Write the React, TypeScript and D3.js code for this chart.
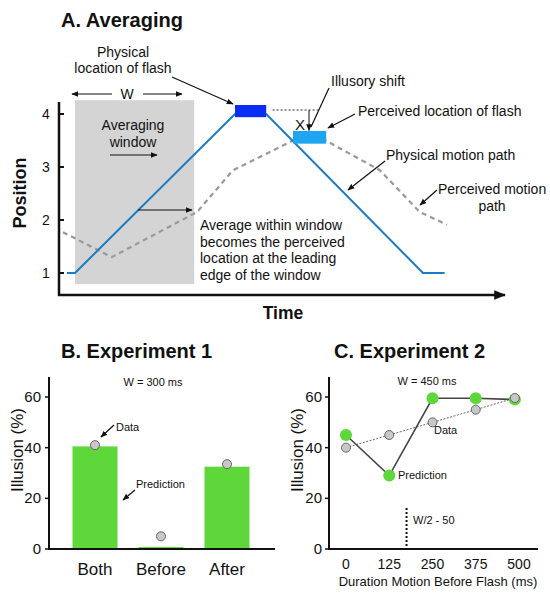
import React from 'react';
import * as d3 from 'd3';

// Panel A: schematic of averaging model
const physTime = [0, 1, 21, 24.9, 44.5, 47.2];
const physPos = [1, 1, 4, 4, 1, 1];
const percTime = [-0.5, 5.6, 16.25, 20.75, 30.4, 39.1, 44.1, 47.5];
const percPos = [1.77, 1.3, 2.15, 2.94, 3.66, 2.94, 2.15, 1.91];
const posTicks = [1, 2, 3, 4];

// Panel B: experiment 1
const exp1Cats = ['Both', 'Before', 'After'];
const exp1Pred = [40.5, 0.8, 32.5];
const exp1Data = [41, 5, 33.5];

// Panel C: experiment 2
const exp2Dur = [0, 125, 250, 375, 488];
const exp2Pred = [45, 29, 59.5, 59.5, 59];
const exp2Data = [40, 45, 50, 55, 59.6];
const durTicks = [0, 125, 250, 375, 500];
const illTicks = [0, 20, 40, 60];

const FONT = 'Liberation Sans, Arial, Helvetica, sans-serif';
const GREEN = '#5dd73a';

const App = () => {
  const xA = d3.scaleLinear().domain([-1, 55]).range([59, 507]);
  const yA = d3.scaleLinear().domain([1, 4]).range([273, 114]);
  const lineA = d3
    .line<[number, number]>()
    .x(d => xA(d[0]))
    .y(d => yA(d[1]));
  const phys = physTime.map((t, i) => [t, physPos[i]] as [number, number]);
  const perc = percTime.map((t, i) => [t, percPos[i]] as [number, number]);

  const yB = d3.scaleLinear().domain([0, 60]).range([549, 397]);
  const xB = d3.scalePoint<string>().domain(exp1Cats).range([95, 227]);
  const barW = 45;

  const xC = d3.scaleLinear().domain([0, 500]).range([346, 519]);
  const yC = yB;
  const lineC = d3
    .line<number>()
    .x((d, i) => xC(exp2Dur[i]))
    .y(d => yC(d));

  const txt = { fontFamily: FONT, fill: '#111' } as const;

  return (
    <svg
      width={550}
      height={595}
      style={{ position: 'absolute', left: 0, top: 0, background: '#fff' }}
    >
      <defs>
        <marker
          id="arr"
          viewBox="0 0 10 10"
          refX={9}
          refY={5}
          markerWidth={7}
          markerHeight={7}
          markerUnits="userSpaceOnUse"
          orient="auto-start-reverse"
        >
          <path d="M0,1 L10,5 L0,9 z" fill="#111" />
        </marker>
        <marker
          id="arrBig"
          viewBox="0 0 10 10"
          refX={9}
          refY={5}
          markerWidth={12}
          markerHeight={12}
          markerUnits="userSpaceOnUse"
          orient="auto"
        >
          <path d="M0,1 L10,5 L0,9 z" fill="#111" />
        </marker>
      </defs>

      {/* ---------- Panel A ---------- */}
      <text x={61} y={27} {...txt} fontSize={20} fontWeight="bold">
        A. Averaging
      </text>
      <rect
        x={xA(1)}
        y={yA(4.26)}
        width={xA(15.9) - xA(1)}
        height={yA(0.79) - yA(4.26)}
        fill="#d4d4d4"
      />
      <path d={lineA(perc) || ''} fill="none" stroke="#999" strokeWidth={2.2} strokeDasharray="5,4" />
      <path d={lineA(phys) || ''} fill="none" stroke="#1b7bc4" strokeWidth={2} />
      <rect
        x={xA(21)}
        y={yA(4.17)}
        width={xA(24.9) - xA(21)}
        height={yA(3.94) - yA(4.17)}
        fill="#0a2ff2"
      />
      <rect
        x={xA(28.25)}
        y={yA(3.68)}
        width={xA(32.4) - xA(28.25)}
        height={yA(3.44) - yA(3.68)}
        fill="#1ea6f0"
      />
      <line
        x1={xA(25.7)}
        x2={xA(31.6)}
        y1={yA(4.075)}
        y2={yA(4.075)}
        stroke="#333"
        strokeWidth={1}
        strokeDasharray="2,2"
      />
      <line
        x1={xA(30.25)}
        x2={xA(30.25)}
        y1={yA(4.075)}
        y2={yA(3.69)}
        stroke="#111"
        strokeWidth={1}
        markerEnd="url(#arr)"
      />
      <text x={300} y={130} {...txt} fontSize={15} textAnchor="middle">
        X
      </text>

      {/* axes A */}
      <line x1={59} x2={59} y1={102} y2={296} stroke="#111" strokeWidth={2.5} />
      <line x1={58} x2={505} y1={295} y2={295} stroke="#111" strokeWidth={2.5} markerEnd="url(#arrBig)" />
      {posTicks.map(p => (
        <g key={p}>
          <line x1={59} x2={64} y1={yA(p)} y2={yA(p)} stroke="#111" strokeWidth={2} />
          <text x={46} y={yA(p) + 5} {...txt} fontSize={14} textAnchor="middle">
            {p}
          </text>
        </g>
      ))}
      <text
        transform="translate(26,193) rotate(-90)"
        {...txt}
        fontSize={18}
        fontWeight="bold"
        textAnchor="middle"
      >
        Position
      </text>
      <text x={283} y={319} {...txt} fontSize={17.5} fontWeight="bold" textAnchor="middle">
        Time
      </text>

      {/* annotations A */}
      <g {...txt} fontSize={14}>
        <text x={123} y={57} textAnchor="middle">Physical</text>
        <text x={123} y={73} textAnchor="middle">location of flash</text>
        <text x={127} y={99} textAnchor="middle">W</text>
        <text x={133} y={130} textAnchor="middle">Averaging</text>
        <text x={133} y={147} textAnchor="middle">window</text>
        <text x={200} y={230}>Average within window</text>
        <text x={200} y={247}>becomes the perceived</text>
        <text x={200} y={263}>location at the leading</text>
        <text x={200} y={280}>edge of the window</text>
        <text x={331} y={86}>Illusory shift</text>
        <text x={358} y={116}>Perceived location of flash</text>
        <text x={386} y={160}>Physical motion path</text>
        <text x={438} y={194}>Perceived motion</text>
        <text x={492} y={211} textAnchor="middle">path</text>
      </g>
      <g stroke="#111" strokeWidth={1.2} fill="none">
        <line x1={172} y1={77} x2={233} y2={104} markerEnd="url(#arr)" />
        <line x1={112} y1={94} x2={72} y2={94} markerEnd="url(#arr)" />
        <line x1={143} y1={94} x2={182} y2={94} markerEnd="url(#arr)" />
        <line x1={110} y1={155} x2={157} y2={155} markerEnd="url(#arr)" />
        <line x1={138} y1={210} x2={192} y2={210} markerEnd="url(#arr)" />
        <line x1={329} y1={88} x2={311} y2={127} />
        <line x1={355} y1={114} x2={328} y2={128} markerEnd="url(#arr)" />
        <line x1={385} y1={161} x2={348} y2={190} markerEnd="url(#arr)" />
        <line x1={437} y1={190} x2={420} y2={205} markerEnd="url(#arr)" />
      </g>

      {/* ---------- Panel B ---------- */}
      <text x={61} y={358} {...txt} fontSize={20} fontWeight="bold">
        B. Experiment 1
      </text>
      {exp1Cats.map((c, i) => (
        <rect
          key={c}
          x={(xB(c) || 0) - barW / 2}
          y={yB(exp1Pred[i])}
          width={barW}
          height={yB(0) - yB(exp1Pred[i])}
          fill={GREEN}
        />
      ))}
      {exp1Cats.map((c, i) => (
        <circle key={c} cx={xB(c)} cy={yB(exp1Data[i])} r={4.5} fill="#c8c8c8" stroke="#666" strokeWidth={1} />
      ))}
      <line x1={49} x2={49} y1={377} y2={550} stroke="#111" strokeWidth={2} />
      <line x1={48} x2={275} y1={549} y2={549} stroke="#111" strokeWidth={2} />
      {illTicks.map(v => (
        <g key={v}>
          <line x1={45} x2={49} y1={yB(v)} y2={yB(v)} stroke="#111" strokeWidth={1.5} />
          <text x={41} y={yB(v) + 5} {...txt} fontSize={15} textAnchor="end">
            {v}
          </text>
        </g>
      ))}
      {exp1Cats.map(c => (
        <text key={c} x={xB(c)} y={575} {...txt} fontSize={17} textAnchor="middle">
          {c}
        </text>
      ))}
      <text transform="translate(23,450) rotate(-90)" {...txt} fontSize={17} textAnchor="middle">
        Illusion (%)
      </text>
      <g {...txt} fontSize={11}>
        <text x={153} y={386} textAnchor="middle">W = 300 ms</text>
        <text x={116} y={431}>Data</text>
        <text x={136} y={488}>Prediction</text>
      </g>
      <g stroke="#111" strokeWidth={1.2}>
        <line x1={114} y1={425} x2={101} y2={437} markerEnd="url(#arr)" />
        <line x1={135} y1={490} x2={123} y2={500} markerEnd="url(#arr)" />
      </g>

      {/* ---------- Panel C ---------- */}
      <text x={334} y={358} {...txt} fontSize={20} fontWeight="bold">
        C. Experiment 2
      </text>
      <line
        x1={xC(175)}
        x2={xC(175)}
        y1={508}
        y2={549}
        stroke="#111"
        strokeWidth={2}
        strokeDasharray="2,2"
      />
      <path d={lineC(exp2Data) || ''} fill="none" stroke="#666" strokeWidth={1} strokeDasharray="2,1.5" />
      <path d={lineC(exp2Pred) || ''} fill="none" stroke="#444" strokeWidth={1.6} />
      {exp2Pred.map((v, i) => (
        <circle key={'p' + i} cx={xC(exp2Dur[i])} cy={yC(v)} r={6} fill={GREEN} />
      ))}
      {exp2Data.map((v, i) => (
        <circle key={'d' + i} cx={xC(exp2Dur[i])} cy={yC(v)} r={4.5} fill="#c8c8c8" stroke="#666" strokeWidth={1} />
      ))}
      <line x1={329} x2={329} y1={377} y2={550} stroke="#111" strokeWidth={2} />
      <line x1={328} x2={538} y1={549} y2={549} stroke="#111" strokeWidth={2} />
      {illTicks.map(v => (
        <g key={v}>
          <line x1={325} x2={329} y1={yC(v)} y2={yC(v)} stroke="#111" strokeWidth={1.5} />
          <text x={322} y={yC(v) + 5} {...txt} fontSize={15} textAnchor="end">
            {v}
          </text>
        </g>
      ))}
      {durTicks.map(v => (
        <text key={v} x={xC(v)} y={569} {...txt} fontSize={14} textAnchor="middle">
          {v}
        </text>
      ))}
      <text transform="translate(303,450) rotate(-90)" {...txt} fontSize={17} textAnchor="middle">
        Illusion (%)
      </text>
      <text x={438} y={586} {...txt} fontSize={13} textAnchor="middle">
        Duration Motion Before Flash (ms)
      </text>
      <g {...txt} fontSize={11}>
        <text x={427} y={385} textAnchor="middle">W = 450 ms</text>
        <text x={434} y={434}>Data</text>
        <text x={398} y={479}>Prediction</text>
        <text x={413} y={524}>W/2 - 50</text>
      </g>
    </svg>
  );
};

export default App;
